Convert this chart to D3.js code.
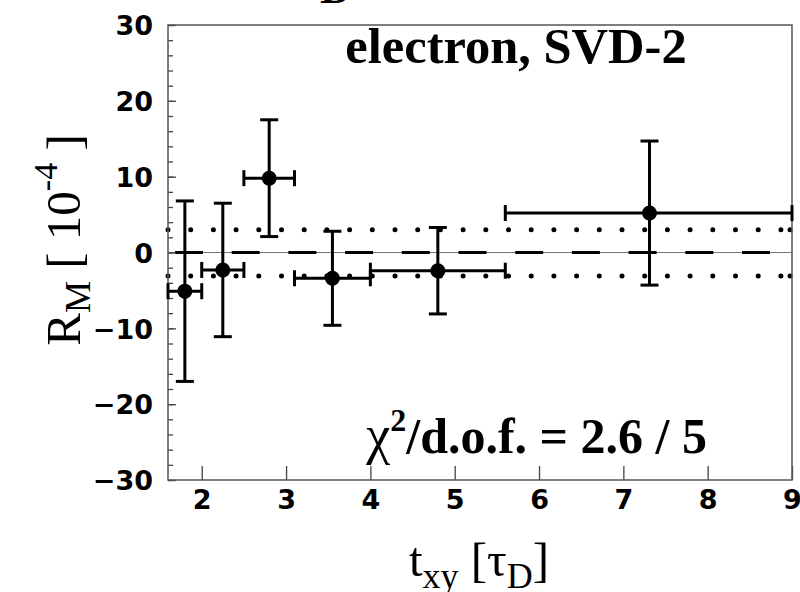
<!DOCTYPE html>
<html>
<head>
<meta charset="utf-8">
<script src="https://cdn.jsdelivr.net/npm/d3@7"></script>
<style>
  html, body { margin: 0; padding: 0; background: #fff; }
  svg { display: block; }
</style>
</head>
<body>
<svg id="chart" width="800" height="592"></svg>
<script>
// ---- data ----
const tCenter = [1.80, 2.25, 2.80, 3.55, 4.80, 7.31];
const tLow    = [1.60, 2.00, 2.50, 3.10, 4.00, 5.60];
const tHigh   = [2.00, 2.50, 3.10, 4.00, 5.60, 9.00];
const rValue  = [-5.1, -2.3, 9.8, -3.4, -2.4, 5.2];
const rError  = [11.9, 8.8, 7.7, 6.2, 5.7, 9.5];
const bandLevels = [3.0, -3.1];
const fitLevel = 0;
const xTicks = [2, 3, 4, 5, 6, 7, 8, 9];
const yTicks = [-30, -20, -10, 0, 10, 20, 30];
const yMinorTicks = d3.range(-30, 31, 2);

const svg = d3.select("#chart");
const x = d3.scaleLinear().domain([1.6, 9]).range([168, 792]);
const y = d3.scaleLinear().domain([-30, 30]).range([480, 25]);

const serif = "'Liberation Serif', 'Times New Roman', serif";
const sans = "'DejaVu Sans', sans-serif";

// zero reference line (thin gray)
svg.append("line")
  .attr("x1", x.range()[0]).attr("x2", x.range()[1])
  .attr("y1", y(0)).attr("y2", y(0))
  .attr("stroke", "#777").attr("stroke-width", 1.2);

// dotted band lines
bandLevels.forEach(v => {
  svg.append("line")
    .attr("x1", x.range()[0]).attr("x2", x.range()[1])
    .attr("y1", y(v)).attr("y2", y(v))
    .attr("stroke", "#000").attr("stroke-width", 5)
    .attr("stroke-linecap", "round")
    .attr("stroke-dasharray", "0 22.7");
  svg.append("circle").attr("cx", x.range()[1] - 2).attr("cy", y(v)).attr("r", 2.5).attr("fill", "#000");
});

// dashed fit line
svg.append("line")
  .attr("x1", x.range()[0] + 7).attr("x2", x.range()[1])
  .attr("y1", y(fitLevel)).attr("y2", y(fitLevel))
  .attr("stroke", "#000").attr("stroke-width", 3)
  .attr("stroke-dasharray", "28 28.7");

// axes
const gy = svg.append("g").attr("transform", `translate(${x.range()[0]},0)`)
  .call(d3.axisLeft(y).tickValues(yTicks).tickSize(-8).tickPadding(15));
const gyMinor = svg.append("g").attr("transform", `translate(${x.range()[0]},0)`)
  .call(d3.axisLeft(y).tickValues(yMinorTicks).tickSize(-5).tickFormat(""));
const gx = svg.append("g").attr("transform", `translate(0,${y.range()[0]})`)
  .call(d3.axisBottom(x).tickValues(xTicks).tickSize(-14).tickPadding(11).tickFormat(d3.format("d")));

[gy, gyMinor, gx].forEach(g => {
  g.select(".domain").remove();
  g.selectAll(".tick line").attr("stroke", "#444").attr("stroke-width", 1.3);
  g.selectAll("text").attr("font-family", sans).attr("font-weight", "bold")
    .attr("font-size", 27).attr("fill", "#000");
});
gy.selectAll("text").attr("dy", "0.36em");
gx.selectAll("text").attr("dy", "0.68em");

// frame
svg.append("rect")
  .attr("x", x.range()[0]).attr("y", y.range()[1])
  .attr("width", x.range()[1] - x.range()[0])
  .attr("height", y.range()[0] - y.range()[1])
  .attr("fill", "none").attr("stroke", "#555").attr("stroke-width", 1.5);

// error bars
const pts = tCenter.map((t, i) => ({t, lo: tLow[i], hi: tHigh[i], r: rValue[i], e: rError[i]}));
const g = svg.append("g").attr("stroke", "#000").attr("stroke-width", 3);
pts.forEach(p => {
  g.append("line").attr("x1", x(p.lo)).attr("x2", x(p.hi)).attr("y1", y(p.r)).attr("y2", y(p.r));
  g.append("line").attr("x1", x(p.lo)).attr("x2", x(p.lo)).attr("y1", y(p.r) - 8).attr("y2", y(p.r) + 8);
  g.append("line").attr("x1", x(p.hi)).attr("x2", x(p.hi)).attr("y1", y(p.r) - 8).attr("y2", y(p.r) + 8);
  g.append("line").attr("x1", x(p.t)).attr("x2", x(p.t)).attr("y1", y(p.r + p.e)).attr("y2", y(p.r - p.e));
  g.append("line").attr("x1", x(p.t) - 9).attr("x2", x(p.t) + 9).attr("y1", y(p.r + p.e)).attr("y2", y(p.r + p.e));
  g.append("line").attr("x1", x(p.t) - 9).attr("x2", x(p.t) + 9).attr("y1", y(p.r - p.e)).attr("y2", y(p.r - p.e));
});
svg.append("g").selectAll("circle").data(pts).join("circle")
  .attr("cx", d => x(d.t)).attr("cy", d => y(d.r)).attr("r", 7.5).attr("fill", "#000");

// texts
svg.append("text").attr("x", 516).attr("y", 63).attr("text-anchor", "middle")
  .attr("font-family", serif).attr("font-weight", "bold").attr("font-size", 50.5)
  .text("electron, SVD-2");

const chi = svg.append("text").attr("x", 707).attr("y", 453).attr("text-anchor", "end")
  .attr("font-family", serif).attr("font-weight", "bold").attr("font-size", 50);
chi.append("tspan").attr("font-weight", "normal").attr("font-size", 54).text("χ");
chi.append("tspan").attr("font-size", 32).attr("dy", -22).text("2");
chi.append("tspan").attr("dy", 22).text("/d.o.f. = 2.6 / 5");

// clipped title remnant at the very top
svg.append("text").attr("x", 336).attr("y", 3).attr("text-anchor", "middle")
  .attr("font-family", serif).attr("font-weight", "bold").attr("font-size", 44).text("D");

// y axis label
const yl = svg.append("text").attr("transform", "translate(80,240) rotate(-90)")
  .attr("text-anchor", "middle").attr("font-family", serif).attr("font-size", 49);
yl.append("tspan").text("R");
yl.append("tspan").attr("font-size", 36).attr("dy", 10).text("M");
yl.append("tspan").attr("dy", -10).text(" [ 10");
yl.append("tspan").attr("font-size", 34).attr("dy", -23).text("-4");
yl.append("tspan").attr("dy", 23).text(" ]");

// x axis label
const xl = svg.append("text").attr("x", 479).attr("y", 576).attr("text-anchor", "middle")
  .attr("font-family", serif).attr("font-size", 49);
xl.append("tspan").text("t");
xl.append("tspan").attr("font-size", 36).attr("dy", 12).text("xy");
xl.append("tspan").attr("dy", -12).text(" [τ");
xl.append("tspan").attr("font-size", 36).attr("dy", 12).text("D");
xl.append("tspan").attr("dy", -12).text("]");
</script>
</body>
</html>
